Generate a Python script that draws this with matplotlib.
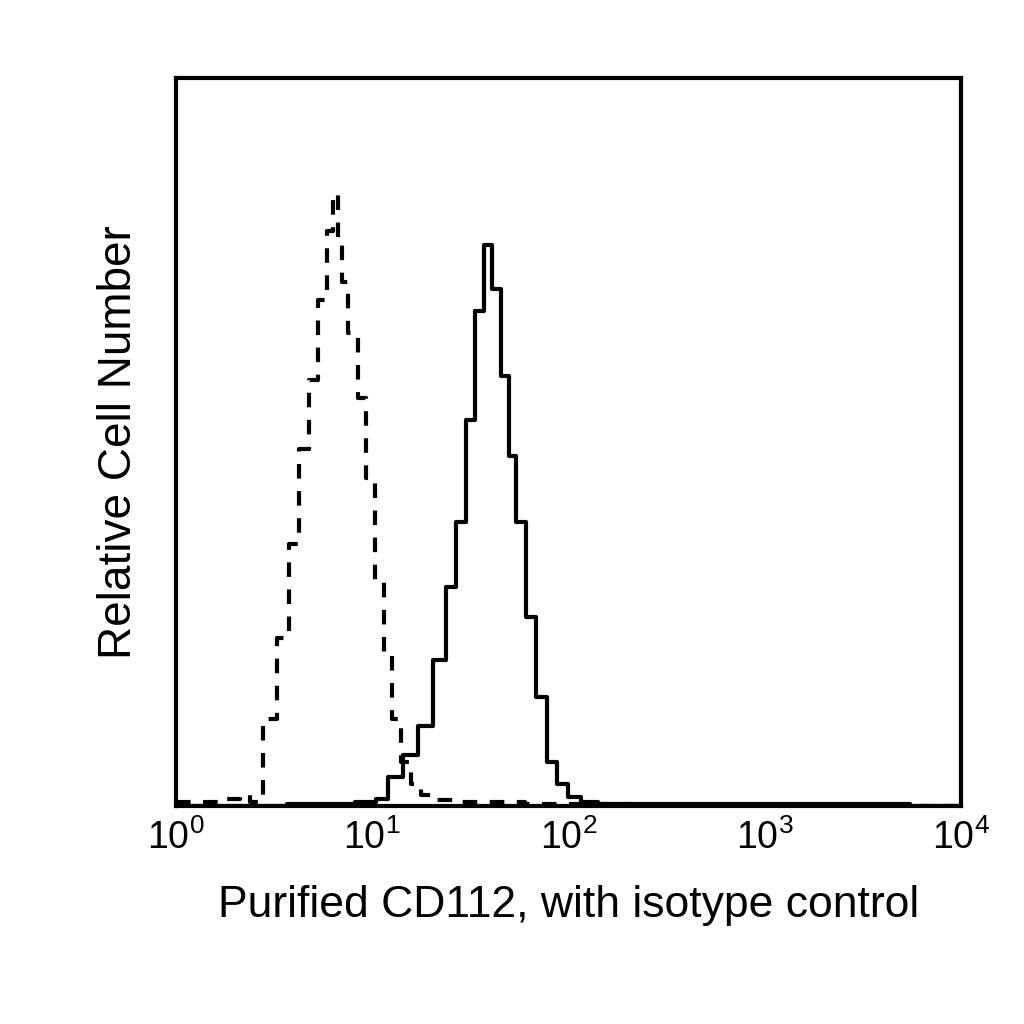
import matplotlib
matplotlib.use("Agg")
import matplotlib.pyplot as plt
import numpy as np

plt.rcParams['font.family'] = ['Liberation Sans', 'DejaVu Sans']
plt.rcParams['mathtext.fontset'] = 'custom'
plt.rcParams['mathtext.rm'] = 'Liberation Sans'
plt.rcParams['mathtext.it'] = 'Liberation Sans'

# log10 fluorescence positions and relative counts
iso_x = [0.0, 0.15, 0.3, 0.35, 0.4, 0.48, 0.55, 0.6, 0.65, 0.7, 0.75, 0.79, 0.81,
         0.84, 0.85, 0.9, 0.95, 0.99, 1.04, 1.08, 1.12, 1.17, 1.22, 1.28, 1.35, 1.5,
         1.7, 1.85, 2.0, 2.5, 3.0, 4.0]
iso_y = [0.005, 0.005, 0.01, 0.015, 0.005, 0.12, 0.23, 0.36, 0.49, 0.585, 0.695,
         0.79, 0.84, 0.78, 0.72, 0.65, 0.56, 0.45, 0.31, 0.21, 0.12, 0.06, 0.03,
         0.015, 0.008, 0.005, 0.005, 0.003, 0.002, 0.0, 0.0, 0.0]

cd_x = [0.0, 0.8, 1.0, 1.04, 1.12, 1.19, 1.27, 1.35, 1.4, 1.45, 1.5, 1.55, 1.59,
        1.63, 1.68, 1.71, 1.76, 1.81, 1.86, 1.92, 1.96, 2.03, 2.1, 2.2, 2.5, 3.0, 4.0]
cd_y = [0.0, 0.003, 0.005, 0.01, 0.04, 0.07, 0.11, 0.2, 0.3, 0.39, 0.53, 0.68,
        0.77, 0.71, 0.59, 0.48, 0.39, 0.26, 0.15, 0.06, 0.03, 0.012, 0.005, 0.003,
        0.002, 0.002, 0.0]

fig = plt.figure(figsize=(10.24, 10.24), dpi=100)
ax = fig.add_axes([0.172, 0.213, 0.766, 0.711])
ax.plot(10 ** np.array(iso_x), iso_y, drawstyle='steps-mid', color='black',
        lw=3, ls=(0, (3.5, 3)))
ax.plot(10 ** np.array(cd_x), cd_y, drawstyle='steps-mid', color='black', lw=3)
ax.set_xscale('log')
ax.set_xlim(1, 1e4)
ax.set_ylim(0, 1)
ax.set_yticks([])
ax.set_xticks([1, 10, 100, 1000, 10000])
ax.set_xticklabels([r'$10^{0}$', r'$10^{1}$', r'$10^{2}$', r'$10^{3}$', r'$10^{4}$'])
ax.minorticks_off()
ax.tick_params(axis='x', length=0, labelsize=27, pad=10)
for s in ax.spines.values():
    s.set_linewidth(3)
ax.set_xlabel('Purified CD112, with isotype control', fontsize=32, labelpad=20)
ax.set_ylabel('Relative Cell Number', fontsize=33, labelpad=25)
fig.savefig('out.png', dpi=100)
